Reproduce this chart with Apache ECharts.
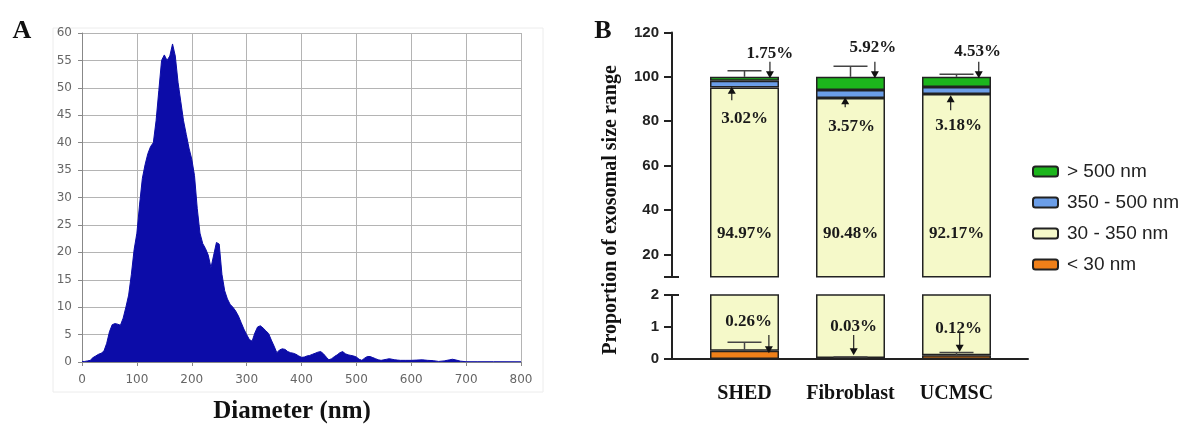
<!DOCTYPE html>
<html>
<head>
    <meta charset="utf-8">
    <title>Exosome size</title>
    <script src="https://cdn.jsdelivr.net/npm/echarts@6/dist/echarts.min.js"></script>
</head>
<body style="margin:0">
    <div id="c" style="width:1184px;height:425px;"></div>
    <script>
        // panel A: size distribution
        var diameterNm = [0, 5, 10, 15, 20, 25, 30, 35, 40, 45, 50, 55, 60, 65, 70, 75, 80, 85, 90, 95,
            100, 105, 110, 115, 120, 125, 130, 135, 140, 145, 150, 155, 160, 165, 170, 175, 180, 185, 190, 195,
            200, 205, 210, 215, 220, 225, 230, 235, 240, 245, 250, 255, 260, 265, 270, 275, 280, 285, 290, 295,
            300, 305, 310, 315, 320, 325, 330, 335, 340, 345, 350, 355, 360, 365, 370, 375, 380, 385, 390, 395,
            400, 405, 410, 415, 420, 425, 430, 435, 440, 445, 450, 455, 460, 465, 470, 475, 480, 485, 490, 495,
            500, 505, 510, 515, 520, 525, 530, 535, 540, 545, 550, 555, 560, 565, 570, 575, 580, 590, 600, 610,
            620, 630, 640, 650, 660, 670, 675, 680, 690, 700, 720, 750, 800];
        var concentration = [0.1, 0.1, 0.2, 0.3, 0.8, 1.1, 1.4, 1.6, 2.0, 3.4, 5.5, 6.8, 7.0, 6.9, 6.7, 8.0, 10.0, 12.2, 16.0, 20.5,
            23.5, 28.8, 33.5, 36.0, 38.0, 39.3, 40.0, 44.0, 49.5, 55.0, 56.0, 55.0, 55.8, 58.0, 55.8, 51.0, 47.5, 44.0, 41.5, 39.0,
            37.0, 34.0, 28.0, 23.5, 21.6, 20.7, 19.5, 17.2, 19.5, 21.8, 21.5, 16.0, 13.0, 11.5, 10.5, 10.0, 9.3, 8.4, 7.2, 6.0,
            5.0, 4.1, 3.8, 5.3, 6.4, 6.6, 6.2, 5.7, 5.2, 4.0, 2.9, 1.7, 2.2, 2.4, 2.3, 1.9, 1.7, 1.6, 1.4, 1.1,
            0.85, 0.9, 1.1, 1.2, 1.4, 1.6, 1.8, 1.9, 1.5, 0.9, 0.4, 0.6, 1.0, 1.3, 1.7, 1.9, 1.5, 1.3, 1.2, 1.1,
            0.9, 0.5, 0.3, 0.7, 1.0, 1.0, 0.8, 0.6, 0.4, 0.3, 0.4, 0.5, 0.6, 0.5, 0.4, 0.35, 0.3, 0.3, 0.3, 0.35,
            0.4, 0.3, 0.25, 0.1, 0.2, 0.4, 0.5, 0.4, 0.15, 0.05, 0.05, 0.05, 0.05];

        // panel B: proportion per size range
        var groups = ['SHED', 'Fibroblast', 'UCMSC'];
        var ranges = ['< 30 nm', '30 - 350 nm', '350 - 500 nm', '> 500 nm'];
        var under30 = [0.26, 0.03, 0.12];
        var from30to350 = [94.97, 90.48, 92.17];
        var from350to500 = [3.02, 3.57, 3.18];
        var over500 = [1.75, 5.92, 4.53];
        var errUpper = [102.7, 104.8, 101.2];
        var errLower = [0.52, 0.06, 0.2];

        var upperTicks = [10, 20, 40, 60, 80, 100, 120];
        var upperLabels = [20, 40, 60, 80, 100, 120];

        // percent notes: text, x (category units, 0 = SHED centre), y (data)
        var upperNoteText = ['1.75%', '5.92%', '4.53%', '3.02%', '3.57%', '3.18%', '94.97%', '90.48%', '92.17%'];
        var upperNoteX = [0.24, 1.21, 2.2, 0.0, 1.01, 2.02, 0, 1, 2];
        var upperNoteY = [110.6, 113, 111.3, 81.4, 77.4, 78.2, 29.4, 29.4, 29.4];
        var upperArrowX = [0.24, 1.23, 2.21, -0.12, 0.95, 1.945];
        var upperArrowFrom = [106.8, 106.8, 106.8, 89.5, 86.3, 85];
        var upperArrowTo = [99.3, 99.3, 99.3, 95.5, 90.8, 91.7];

        var lowerNoteText = ['0.26%', '0.03%', '0.12%'];
        var lowerNoteX = [0.04, 1.03, 2.02];
        var lowerNoteY = [1.17, 1.01, 0.96];
        var lowerArrowX = [0.23, 1.03, 2.03];
        var lowerArrowFrom = [0.75, 0.75, 0.81];
        var lowerArrowTo = [0.18, 0.12, 0.23];

        var colors = ['#f08019', '#f5f9c9', '#6b9ee8', '#1cb51c'];
        var serif = 'Liberation Serif';
        var sans = 'Liberation Sans';

        function pairs(xs, ys) {
            return xs.map(function (x, i) { return [x, ys[i]]; });
        }

        function noteSeries(xi, yi, text, xs, ys) {
            return {
                type: 'custom', xAxisIndex: xi, yAxisIndex: yi, silent: true, z: 10, clip: false,
                data: pairs(xs, ys),
                renderItem: function (params, api) {
                    var p = api.coord([api.value(0), api.value(1)]);
                    return {
                        type: 'text', x: p[0], y: p[1],
                        style: {
                            text: text[params.dataIndex], fill: '#1a1a1a',
                            font: 'bold 17px ' + serif,
                            textAlign: 'center', textVerticalAlign: 'middle'
                        }
                    };
                }
            };
        }

        function arrowSeries(xi, yi, xs, from, to) {
            return {
                type: 'custom', xAxisIndex: xi, yAxisIndex: yi, silent: true, z: 10, clip: false,
                data: xs.map(function (x, i) { return [x, from[i], to[i]]; }),
                renderItem: function (params, api) {
                    var a = api.coord([api.value(0), api.value(1)]);
                    var b = api.coord([api.value(0), api.value(2)]);
                    var d = b[1] > a[1] ? 1 : -1;
                    return {
                        type: 'group',
                        children: [{
                            type: 'line',
                            shape: { x1: a[0], y1: a[1], x2: b[0], y2: b[1] - d * 6 },
                            style: { stroke: '#222', lineWidth: 1.2 }
                        }, {
                            type: 'polygon',
                            shape: { points: [[b[0] - 4, b[1] - d * 7], [b[0] + 4, b[1] - d * 7], [b[0], b[1]]] },
                            style: { fill: '#111' }
                        }]
                    };
                }
            };
        }

        function errorSeries(xi, yi, base, tops) {
            return {
                type: 'custom', xAxisIndex: xi, yAxisIndex: yi, silent: true, z: 5, clip: false,
                data: groups.map(function (g, i) { return [i, base[i], tops[i]]; }),
                renderItem: function (params, api) {
                    var a = api.coord([api.value(0), api.value(1)]);
                    var b = api.coord([api.value(0), api.value(2)]);
                    var ls = { stroke: '#444', lineWidth: 1.5 };
                    return {
                        type: 'group',
                        children: [
                            { type: 'line', shape: { x1: a[0], y1: a[1], x2: b[0], y2: b[1] }, style: ls },
                            { type: 'line', shape: { x1: b[0] - 17, y1: b[1], x2: b[0] + 17, y2: b[1] }, style: ls }
                        ]
                    };
                }
            };
        }

        var stackData = [under30, from30to350, from350to500, over500];
        var totals = groups.map(function (g, i) {
            return under30[i] + from30to350[i] + from350to500[i] + over500[i];
        });
        var series = [{
            type: 'line', xAxisIndex: 0, yAxisIndex: 0,
            data: pairs(diameterNm, concentration),
            symbol: 'none',
            lineStyle: { color: '#0c0ca8', width: 1 },
            areaStyle: { color: '#0c0ca8', opacity: 1 }
        }];
        // [category x axis, y axis, stack]
        [[1, 1, 'up'], [3, 3, 'low']].forEach(function (ax) {
            stackData.forEach(function (arr, k) {
                series.push({
                    type: 'bar', name: ranges[k], xAxisIndex: ax[0], yAxisIndex: ax[1], stack: ax[2],
                    barWidth: 69,
                    data: arr,
                    itemStyle: { color: colors[k], borderColor: '#222', borderWidth: 1.5 }
                });
            });
        });
        series.push(errorSeries(2, 1, totals, errUpper));
        series.push(errorSeries(4, 3, under30, errLower));
        series.push(noteSeries(2, 1, upperNoteText, upperNoteX, upperNoteY));
        series.push(noteSeries(4, 3, lowerNoteText, lowerNoteX, lowerNoteY));
        series.push(arrowSeries(2, 1, upperArrowX, upperArrowFrom, upperArrowTo));
        series.push(arrowSeries(4, 3, lowerArrowX, lowerArrowFrom, lowerArrowTo));

        var axB = { color: '#222', width: 2 };
        var labB = { fontFamily: sans, fontWeight: 'bold', fontSize: 15, color: '#222', margin: 13 };
        var hiddenValueX = function (grid) {
            return { gridIndex: grid, type: 'value', min: -0.5, max: 2.5, show: false };
        };

        var myChart = echarts.init(document.getElementById('c'));
        var option = {
            animation: false,
            grid: [
                { left: 82, top: 33, right: 663, bottom: 63 },
                { left: 691.5, top: 32.4, right: 174.5, bottom: 148.3 },
                { left: 691.5, top: 295, right: 174.5, bottom: 66 },
                { left: 672, top: 295, right: 156, bottom: 66 }
            ],
            xAxis: [{
                gridIndex: 0, type: 'value', min: 0, max: 800, interval: 100,
                axisLine: { lineStyle: { color: '#888' } },
                axisTick: { length: 4, lineStyle: { color: '#888' } },
                axisLabel: { fontFamily: 'DejaVu Sans', fontSize: 12, color: '#666', margin: 12 },
                splitLine: { show: true, lineStyle: { color: '#b4b4b4' } }
            }, {
                gridIndex: 1, type: 'category', data: groups, show: false
            },
                hiddenValueX(1),
            {
                gridIndex: 2, type: 'category', data: groups,
                axisLine: { show: false },
                axisTick: { alignWithLabel: true, length: 6, lineStyle: axB },
                axisLabel: { interval: 0, fontFamily: serif, fontWeight: 'bold', fontSize: 20, color: '#111', margin: 25 }
            },
                hiddenValueX(2),
            {
                gridIndex: 3, type: 'value', min: 0, max: 1,
                axisLine: { onZero: false, lineStyle: axB },
                axisTick: { show: false }, axisLabel: { show: false }, splitLine: { show: false }
            }],
            yAxis: [{
                gridIndex: 0, type: 'value', min: 0, max: 60, interval: 5,
                axisLine: { show: true, lineStyle: { color: '#888' } },
                axisTick: { show: true, length: 4, lineStyle: { color: '#888' } },
                axisLabel: { fontFamily: 'DejaVu Sans', fontSize: 12, color: '#666', margin: 10 },
                splitLine: { show: true, lineStyle: { color: '#b4b4b4' } }
            }, {
                gridIndex: 1, type: 'value', min: 10, max: 120, position: 'left', offset: 19.5,
                axisLine: { show: true, onZero: false, lineStyle: axB },
                axisTick: { show: true, customValues: upperTicks, length: 8, lineStyle: axB },
                axisLabel: Object.assign({ customValues: upperLabels }, labB),
                splitLine: { show: false }
            }, {
                gridIndex: 1, type: 'value', min: 10, max: 120, position: 'left', offset: 19.5,
                axisLine: { show: false, onZero: false },
                axisTick: { show: true, inside: true, customValues: [10], length: 7, lineStyle: axB },
                axisLabel: { show: false },
                splitLine: { show: false }
            }, {
                gridIndex: 2, type: 'value', min: 0, max: 2, interval: 1, position: 'left', offset: 19.5,
                axisLine: { show: true, onZero: false, lineStyle: axB },
                axisTick: { show: true, length: 8, lineStyle: axB },
                axisLabel: labB,
                splitLine: { show: false }
            }, {
                gridIndex: 2, type: 'value', min: 0, max: 2, position: 'left', offset: 19.5,
                axisLine: { show: false, onZero: false },
                axisTick: { show: true, inside: true, customValues: [2], length: 7, lineStyle: axB },
                axisLabel: { show: false },
                splitLine: { show: false }
            }, {
                gridIndex: 3, type: 'value', min: 0, max: 2, show: false
            }],
            legend: {
                data: ['> 500 nm', '350 - 500 nm', '30 - 350 nm', '< 30 nm'],
                orient: 'vertical', left: 1027, top: 157,
                itemWidth: 25, itemHeight: 10, itemGap: 12,
                selectedMode: false,
                textStyle: { fontFamily: sans, fontSize: 19, color: '#222', padding: [0, 0, 0, 4] }
            },
            graphic: [
                { type: 'rect', shape: { x: 53, y: 28, width: 490, height: 364 }, style: { fill: 'none', stroke: '#ececec' } },
                { type: 'text', x: 22, y: 31, style: { text: 'A', font: 'bold 26px ' + serif, fill: '#111', textAlign: 'center', textVerticalAlign: 'middle' } },
                { type: 'text', x: 603, y: 31, style: { text: 'B', font: 'bold 26px ' + serif, fill: '#111', textAlign: 'center', textVerticalAlign: 'middle' } },
                { type: 'text', x: 292, y: 412, style: { text: 'Diameter (nm)', font: 'bold 25px ' + serif, fill: '#111', textAlign: 'center', textVerticalAlign: 'middle' } },
                { type: 'text', x: 611, y: 210, rotation: Math.PI / 2, style: { text: 'Proportion of exosomal size range', font: 'bold 20px ' + serif, fill: '#111', textAlign: 'center', textVerticalAlign: 'middle' } }
            ],
            series: series
        };
        myChart.setOption(option);
    </script>
</body>
</html>
